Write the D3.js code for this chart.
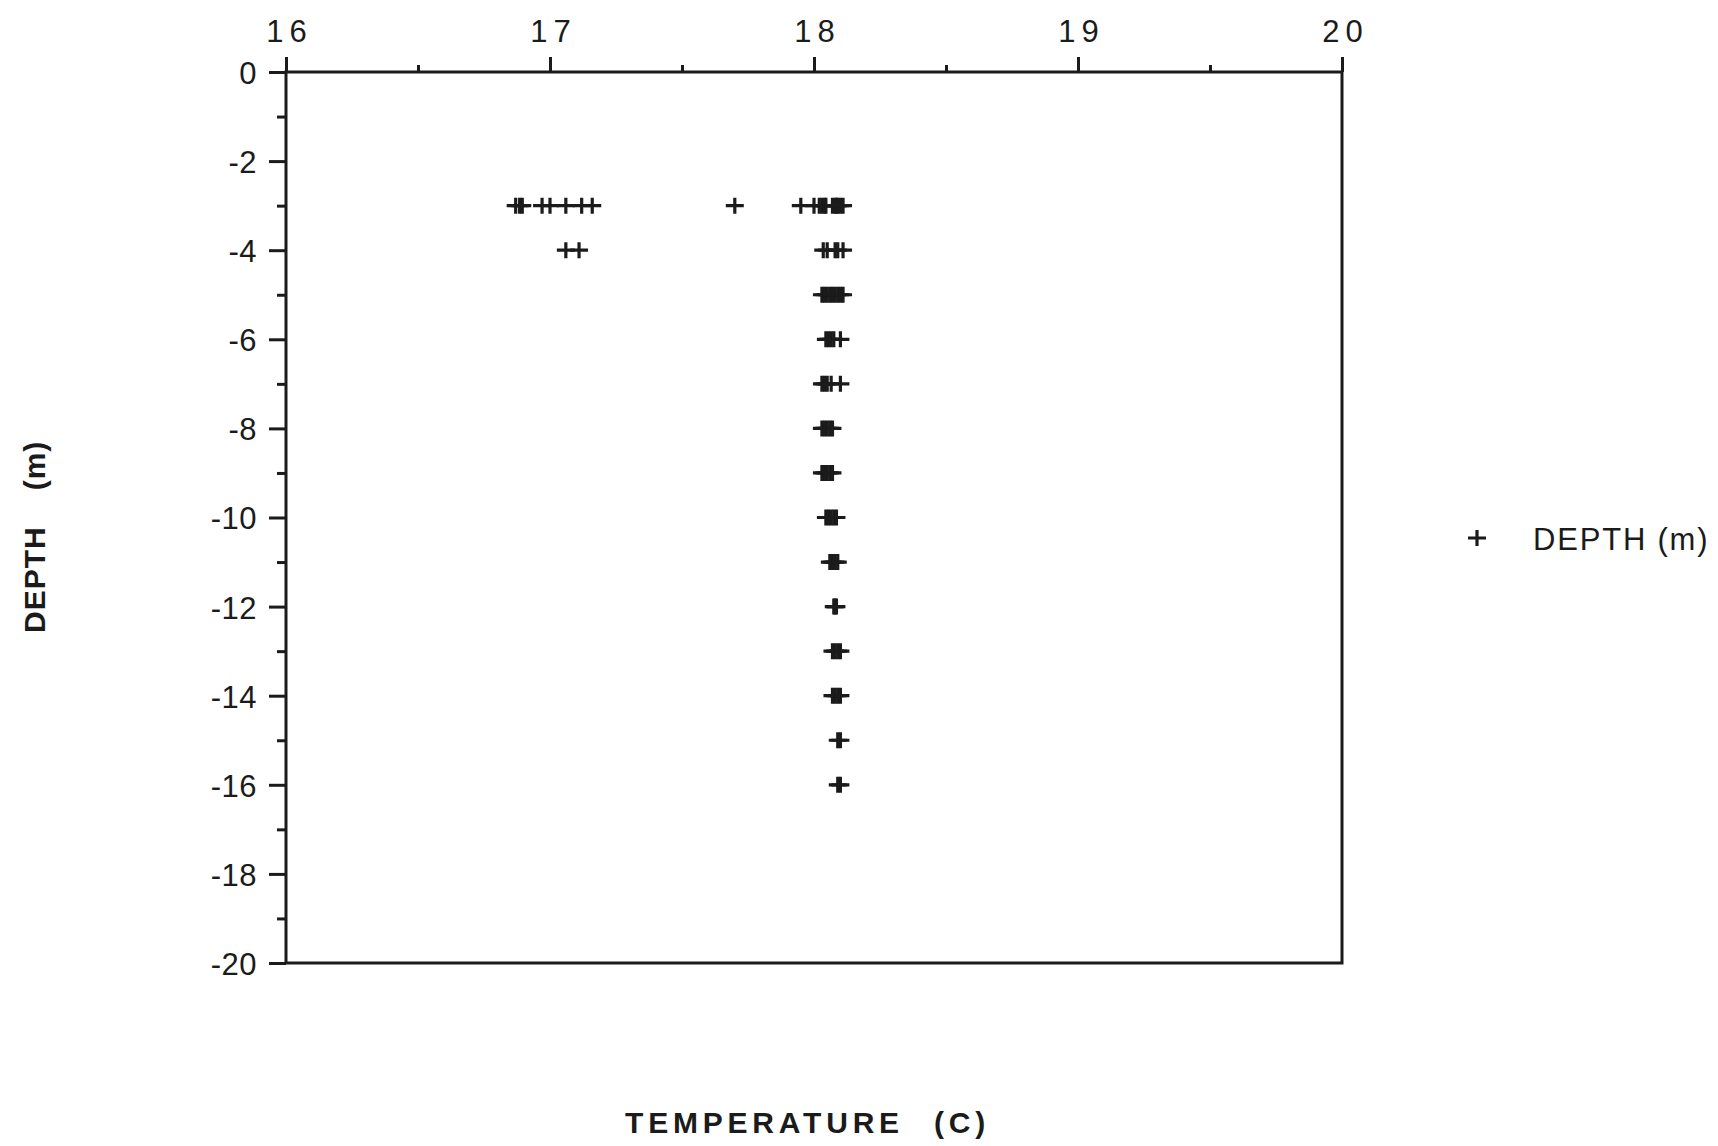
<!DOCTYPE html>
<html>
<head>
<meta charset="utf-8">
<script src="https://cdn.jsdelivr.net/npm/d3@7"></script>
<style>
  html, body { margin: 0; padding: 0; background: #fff; }
  svg { display: block; font-family: "Liberation Sans", Arial, Helvetica, sans-serif; }
</style>
</head>
<body>
<svg id="chart" width="1718" height="1146"></svg>
<script>
// temperature readings (C) grouped by depth (m)
const depths = [-3, -4, -5, -6, -7, -8, -9, -10, -11, -12, -13, -14, -15, -16];
const temps = [
  [16.87, 16.885, 16.895, 16.97, 17.00, 17.06, 17.12, 17.16, 17.70, 17.95, 18.00, 18.02, 18.03, 18.04, 18.045, 18.07, 18.08, 18.085, 18.09, 18.10, 18.11],
  [17.06, 17.11, 18.035, 18.05, 18.08, 18.09, 18.11],
  [18.03, 18.04, 18.05, 18.06, 18.07, 18.08, 18.09, 18.10, 18.11],
  [18.045, 18.055, 18.065, 18.075, 18.10],
  [18.03, 18.04, 18.05, 18.065, 18.10],
  [18.03, 18.04, 18.05, 18.06, 18.07],
  [18.03, 18.04, 18.05, 18.06, 18.07],
  [18.045, 18.055, 18.065, 18.075, 18.085],
  [18.06, 18.07, 18.08, 18.09],
  [18.075, 18.08, 18.085],
  [18.07, 18.08, 18.09, 18.10],
  [18.07, 18.08, 18.09, 18.10],
  [18.09, 18.10],
  [18.09, 18.10]
];
const xMajor = [16, 17, 18, 19, 20];
const xMinor = [16.5, 17.5, 18.5, 19.5];
const yMajor = [0, -2, -4, -6, -8, -10, -12, -14, -16, -18, -20];
const yMinor = [-1, -3, -5, -7, -9, -11, -13, -15, -17, -19];

const ink = "#1b1b1b";
const svg = d3.select("#chart");
const plot = {left: 286, right: 1342, top: 72, bottom: 963};

const x = d3.scaleLinear().domain([16, 20]).range([plot.left, plot.right]);
const y = d3.scaleLinear().domain([0, -20]).range([plot.top, plot.bottom]);

const points = [];
depths.forEach((d, i) => temps[i].forEach(t => points.push({depth: d, temp: t})));

// frame
svg.append("rect")
  .attr("x", plot.left).attr("y", plot.top)
  .attr("width", plot.right - plot.left).attr("height", plot.bottom - plot.top)
  .attr("fill", "none").attr("stroke", ink).attr("stroke-width", 3);

function styleAxis(g) {
  g.select(".domain").remove();
  g.selectAll(".tick line").attr("stroke", ink).attr("stroke-width", 3);
  g.selectAll(".tick text").attr("fill", ink);
}

// top axis, temperature
svg.append("g").attr("transform", `translate(0,${plot.top})`)
  .call(d3.axisTop(x).tickValues(xMajor).tickSize(15).tickPadding(15).tickFormat(d => String(d)))
  .call(styleAxis)
  .call(g => g.selectAll(".tick text")
    .attr("font-size", 31).attr("letter-spacing", 6).attr("dx", 3).attr("font-family", null));
svg.append("g").attr("transform", `translate(0,${plot.top})`)
  .call(d3.axisTop(x).tickValues(xMinor).tickSize(7).tickFormat(""))
  .call(styleAxis);

// left axis, depth
svg.append("g").attr("transform", `translate(${plot.left},0)`)
  .call(d3.axisLeft(y).tickValues(yMajor).tickSize(17).tickPadding(12).tickFormat(d => String(d)))
  .call(styleAxis)
  .call(g => g.selectAll(".tick text")
    .attr("font-size", 31).attr("letter-spacing", 0.5).attr("dy", "0.37em").attr("font-family", null));
svg.append("g").attr("transform", `translate(${plot.left},0)`)
  .call(d3.axisLeft(y).tickValues(yMinor).tickSize(9).tickFormat(""))
  .call(styleAxis);

// plus markers
const plus = "M-9,0H9M0,-8V8";
svg.append("g").selectAll("path.pt").data(points).join("path")
  .attr("class", "pt")
  .attr("d", plus)
  .attr("transform", d => `translate(${x(d.temp)},${y(d.depth)})`)
  .attr("fill", "none").attr("stroke", ink).attr("stroke-width", 3.2);

// legend
const legend = svg.append("g").attr("transform", "translate(1477,538)");
legend.append("path").attr("d", plus).attr("fill", "none").attr("stroke", ink).attr("stroke-width", 3.2);
legend.append("text").attr("x", 56).attr("y", 12)
  .attr("font-size", 31).attr("letter-spacing", 1.8).attr("fill", ink).text("DEPTH (m)");

// axis titles
const xt = svg.append("text")
  .attr("x", 625).attr("y", 1133)
  .attr("font-size", 30).attr("font-weight", "bold").attr("letter-spacing", 4.8).attr("fill", ink);
xt.append("tspan").text("TEMPERATURE");
xt.append("tspan").attr("dx", 30).text("(C)");

const yt = svg.append("text")
  .attr("transform", "translate(45,633) rotate(-90)")
  .attr("font-size", 30).attr("font-weight", "bold").attr("letter-spacing", 1).attr("fill", ink);
yt.append("tspan").text("DEPTH");
yt.append("tspan").attr("dx", 36).text("(m)");
</script>
</body>
</html>
